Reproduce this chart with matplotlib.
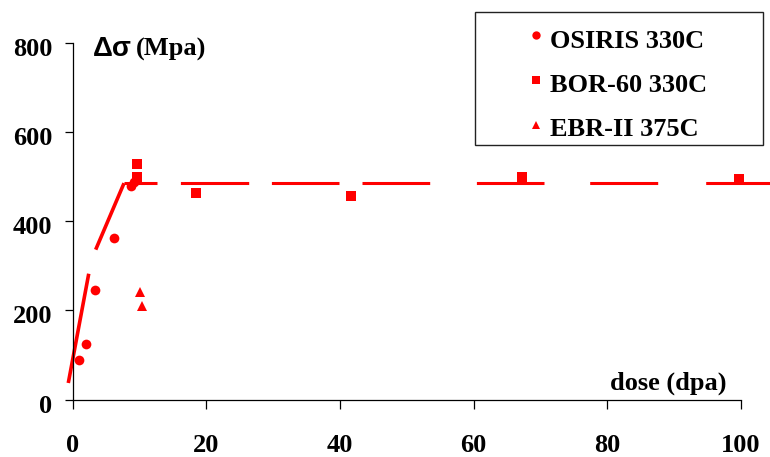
import matplotlib
matplotlib.use("Agg")
import matplotlib.pyplot as plt
import matplotlib.transforms as mtransforms
from matplotlib.patches import Rectangle
from matplotlib.lines import Line2D

# data
osiris_dose = [0.9, 2.0, 3.4, 6.2, 8.7, 9.1]
osiris_ds = [88, 125, 246, 363, 478, 488]
bor_dose = [9.6, 9.6, 18.5, 41.7, 67.2, 99.7]
bor_ds = [527, 500, 463, 457, 498, 494]
ebr_dose = [10.0, 10.3]
ebr_ds = [240, 209]

# trend lines
fit1_dose = [-0.66, 2.4]
fit1_ds = [37, 282]
fit2_dose = [3.44, 7.68]
fit2_ds = [336, 485]
sat_dose = [7.68, 104.5]
sat_ds = [485, 485]

xticks = [0, 20, 40, 60, 80, 100]
yticks = [0, 200, 400, 600, 800]

RED = "#ff0000"
W, H = 770, 457
FS = 19

plt.rcParams['lines.scale_dashes'] = False
serif = ['Liberation Serif', 'DejaVu Serif']

fig = plt.figure(figsize=(W / 100, H / 100), dpi=100)
ax = fig.add_axes([72.7 / W, 1 - 399.5 / H, (741 - 72.7) / W, (399.5 - 42.7) / H])

ax.plot(osiris_dose, osiris_ds, 'o', color=RED, ms=7, mew=0, clip_on=False)
ax.plot(bor_dose, bor_ds, 's', color=RED, ms=7.5, mew=0, clip_on=False)
ax.plot(ebr_dose, ebr_ds, '^', color=RED, ms=6.5, mew=0, clip_on=False)

ax.plot(fit1_dose, fit1_ds, '-', color=RED, lw=2.6, clip_on=False, solid_capstyle='butt')
ax.plot(fit2_dose, fit2_ds, '-', color=RED, lw=2.6, clip_on=False, solid_capstyle='butt')
# dash lengths in px -> pt
px = [33, 23.4, 68.3, 22.7, 67.6, 23, 67.7, 46.7, 67.6, 45.7, 68, 48, 80]
ax.plot(sat_dose, sat_ds, color=RED, lw=2.2, clip_on=False,
        linestyle=(0, [p * 0.72 for p in px]), dash_capstyle='butt')

ax.set_xlim(0, 100)
ax.set_ylim(0, 800)
ax.set_xticks(xticks)
ax.set_yticks(yticks)
for s in ['top', 'right']:
    ax.spines[s].set_visible(False)
for s in ['left', 'bottom']:
    ax.spines[s].set_linewidth(0.9)
ax.tick_params(axis='x', direction='out', length=6.5, width=0.9, pad=18)
ax.tick_params(axis='y', direction='out', length=5.5, width=0.9, pad=9)
for lab in ax.get_xticklabels() + ax.get_yticklabels():
    lab.set_fontfamily(serif)
    lab.set_fontweight('bold')
    lab.set_fontsize(FS)
shift = mtransforms.ScaledTranslation(0, -3 / 72, fig.dpi_scale_trans)
for lab in ax.get_yticklabels():
    lab.set_transform(lab.get_transform() + shift)

def fx(p):
    return p / W

def fy(p):
    return 1 - p / H

fig.text(fx(92.5), fy(49), "\u0394\u03c3", family=['Liberation Sans', 'DejaVu Sans'],
         weight='bold', fontsize=FS + 1, ha='left', va='center')
fig.text(fx(136), fy(49), "(Mpa)", family=serif, weight='bold', fontsize=FS,
         ha='left', va='center')
fig.text(fx(610), fy(383), "dose (dpa)", family=serif, weight='bold', fontsize=FS,
         ha='left', va='center')

# legend box
fig.add_artist(Rectangle((fx(475), fy(145)), fx(763) - fx(475), fy(12) - fy(145),
                         transform=fig.transFigure, fill=False, ec='#222222', lw=1.0))
leg_items = [('o', "OSIRIS 330C", 35, 41.7), ('s', "BOR-60 330C", 80, 85),
             ('^', "EBR-II 375C", 125, 130)]
for mk, label, my, ty in leg_items:
    fig.add_artist(Line2D([fx(535.7)], [fy(my)], marker=mk, color=RED, ms=6, mew=0,
                          transform=fig.transFigure))
    fig.text(fx(550), fy(ty), label, family=serif, weight='bold', fontsize=FS,
             ha='left', va='center')

fig.savefig("out.png", dpi=100)
